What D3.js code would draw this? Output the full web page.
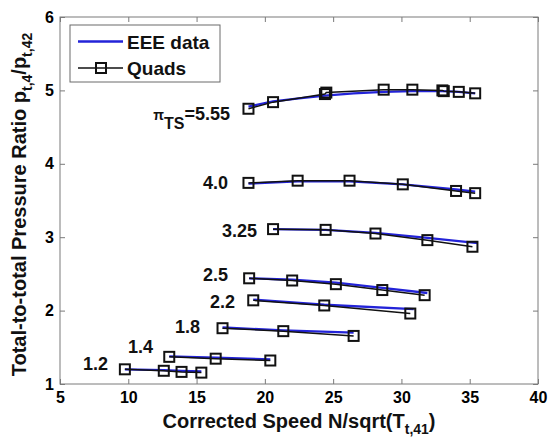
<!DOCTYPE html>
<html><head><meta charset="utf-8">
<script src="https://cdn.jsdelivr.net/npm/d3@7"></script>
<style>
body{margin:0;background:#fff;}
svg{font-family:"Liberation Sans",Arial,sans-serif;font-weight:bold;}
</style></head>
<body><svg id="c" width="549" height="437"></svg>
<script>
// ---- data ----
const xTicks = [5,10,15,20,25,30,35,40];
const yTicks = [1,2,3,4,5,6];
const curveNames = ["5.55","4.0","3.25","2.5","2.2","1.8","1.4","1.2"];
// Quads (black, square markers)
const quads555 = [[18.8,4.75],[20.6,4.84],[24.4,4.95],[24.5,4.97],[28.7,5.01],[30.8,5.01],[33.0,5.00],[33.1,4.99],[34.2,4.98],[35.4,4.96]];
const quads40  = [[18.8,3.74],[22.4,3.77],[26.2,3.77],[30.1,3.72],[34.0,3.63],[35.4,3.60]];
const quads325 = [[20.6,3.11],[24.45,3.10],[28.1,3.05],[31.9,2.96],[35.2,2.87]];
const quads25  = [[18.85,2.44],[22.0,2.41],[25.2,2.36],[28.6,2.28],[31.7,2.21]];
const quads22  = [[19.15,2.14],[24.35,2.07],[30.65,1.96]];
const quads18  = [[16.9,1.76],[21.35,1.72],[26.5,1.655]];
const quads14  = [[13.0,1.37],[16.4,1.345],[20.4,1.32]];
const quads12  = [[9.75,1.20],[12.6,1.18],[13.9,1.165],[15.35,1.155]];
// EEE data (blue line)
const eee555 = [[18.8,4.78],[20.6,4.85],[22.5,4.89],[24.4,4.93],[26.5,4.96],[28.7,4.98],[30.8,4.99],[33.0,4.99],[34.2,4.98],[35.4,4.96]];
const eee40  = [[18.8,3.73],[22.4,3.76],[26.2,3.76],[30.1,3.72],[34.0,3.65],[35.4,3.62]];
const eee325 = [[20.6,3.11],[24.45,3.10],[28.1,3.06],[31.9,2.99],[35.6,2.92]];
const eee25  = [[18.85,2.44],[22.0,2.42],[25.2,2.38],[28.6,2.31],[31.9,2.24]];
const eee22  = [[19.15,2.15],[24.35,2.08],[30.9,2.02]];
const eee18  = [[16.9,1.77],[21.35,1.73],[26.5,1.70]];
const eee14  = [[13.0,1.375],[16.4,1.36],[20.4,1.335]];
const eee12  = [[9.75,1.20],[12.6,1.19],[13.9,1.18],[15.35,1.17]];
// curve labels: right edge x, baseline y (data units)
const labelX = [17.45,17.30,19.42,17.30,17.81,15.25,11.81,8.51];
const labelY = [4.60,3.657,3.003,2.403,2.035,1.695,1.422,1.191];

const quadsAll = [quads555,quads40,quads325,quads25,quads22,quads18,quads14,quads12];
const eeeAll = [eee555,eee40,eee325,eee25,eee22,eee18,eee14,eee12];

// ---- chart ----
const svg = d3.select("#c");
const L=60,R=538,T=17,B=384;
const x = d3.scaleLinear().domain([5,40]).range([L,R]);
const y = d3.scaleLinear().domain([1,6]).range([B,T]);
const axisCol="#7a7a7a";

const g = svg.append("g");
function styleAxis(sel){
  sel.select(".domain").remove();
  sel.selectAll(".tick line").attr("stroke",axisCol);
  sel.selectAll("text").attr("fill","#000").style("font-size","16px").style("font-weight","bold")
     .style("font-family",'"Liberation Sans",Arial,sans-serif');
}
g.append("g").attr("transform",`translate(0,${B})`)
  .call(d3.axisBottom(x).tickValues(xTicks).tickSize(-5).tickSizeOuter(0).tickPadding(8).tickFormat(d3.format("d")))
  .call(styleAxis);
g.append("g").attr("transform",`translate(0,${T})`)
  .call(d3.axisTop(x).tickValues(xTicks).tickSize(-5).tickSizeOuter(0).tickFormat(""))
  .call(styleAxis);
g.append("g").attr("transform",`translate(${L},0)`)
  .call(d3.axisLeft(y).tickValues(yTicks).tickSize(-5).tickSizeOuter(0).tickPadding(6).tickFormat(d3.format("d")))
  .call(styleAxis);
g.append("g").attr("transform",`translate(${R},0)`)
  .call(d3.axisRight(y).tickValues(yTicks).tickSize(-5).tickSizeOuter(0).tickFormat(""))
  .call(styleAxis);
g.append("rect").attr("x",L).attr("y",T).attr("width",R-L).attr("height",B-T)
  .attr("fill","none").attr("stroke",axisCol).attr("stroke-width",1);

const line = d3.line().x(d=>x(d[0])).y(d=>y(d[1]));
const blue = "#2323d8";

eeeAll.forEach(s=>{
  g.append("path").datum(s).attr("d",line).attr("fill","none")
    .attr("stroke",blue).attr("stroke-width",2.3);
});
quadsAll.forEach(s=>{
  g.append("path").datum(s).attr("d",line).attr("fill","none")
    .attr("stroke","#111").attr("stroke-width",1.5);
  g.selectAll(null).data(s).enter().append("rect")
    .attr("x",d=>x(d[0])-5).attr("y",d=>y(d[1])-5)
    .attr("width",10).attr("height",10)
    .attr("fill","none").attr("stroke","#111").attr("stroke-width",2);
});

curveNames.forEach((n,i)=>{
  const t = g.append("text").attr("x",x(labelX[i])).attr("y",y(labelY[i]))
    .attr("text-anchor","end").style("font-size","18px").attr("fill","#111");
  if(i===0){
    t.append("tspan").text("π").style("font-size","14px");
    t.append("tspan").text("TS").style("font-size","16px").attr("dy",9);
    t.append("tspan").text("="+n).attr("dy",-9);
  } else {
    t.text(n);
  }
});

// legend
const lg = svg.append("g");
lg.append("rect").attr("x",70).attr("y",25).attr("width",150).attr("height",57)
  .attr("fill","#fff").attr("stroke","#6a6a6a").attr("stroke-width",1);
lg.append("line").attr("x1",78).attr("x2",123).attr("y1",41.5).attr("y2",41.5)
  .attr("stroke",blue).attr("stroke-width",2.3);
lg.append("text").attr("x",127).attr("y",48.5).text("EEE data").style("font-size","19px").attr("fill","#111");
lg.append("line").attr("x1",78).attr("x2",123).attr("y1",68).attr("y2",68)
  .attr("stroke","#111").attr("stroke-width",1.5);
lg.append("rect").attr("x",101-5).attr("y",68-5).attr("width",10).attr("height",10)
  .attr("fill","none").attr("stroke","#111").attr("stroke-width",2);
lg.append("text").attr("x",127).attr("y",75).text("Quads").style("font-size","19px").attr("fill","#111");

// axis titles
const xt = svg.append("text").attr("x",(L+R)/2).attr("y",428).attr("text-anchor","middle")
  .style("font-size","20px").attr("fill","#111");
xt.append("tspan").text("Corrected Speed N/sqrt(T");
xt.append("tspan").text("t,41").style("font-size","14px").attr("dy",6);
xt.append("tspan").text(")").attr("dy",-6);

const yt = svg.append("text").attr("transform",`translate(26,${(T+B)/2+4}) rotate(-90)`)
  .attr("text-anchor","middle").style("font-size","20px").attr("fill","#111");
yt.append("tspan").text("Total-to-total Pressure Ratio p");
yt.append("tspan").text("t,4").style("font-size","14px").attr("dy",6);
yt.append("tspan").text("/p").attr("dy",-6);
yt.append("tspan").text("t,42").style("font-size","14px").attr("dy",6);
</script></body></html>
